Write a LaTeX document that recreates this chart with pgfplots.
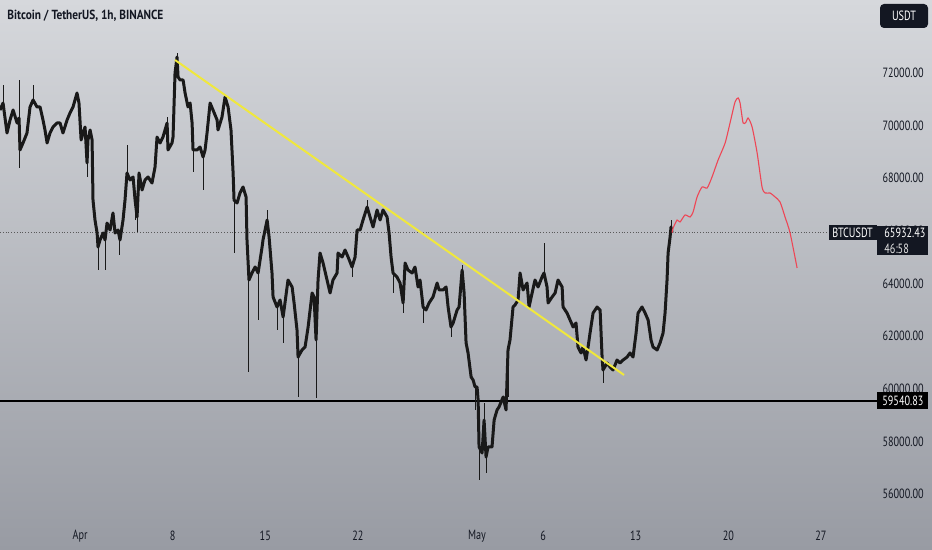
\documentclass[border=0pt]{standalone}
\usepackage{pgfplots}
\pgfplotsset{compat=1.18}
\usepackage{pgfplotstable}
\usepackage{graphicx}
\usepackage{fontspec}
\setmainfont{PT Sans}

\definecolor{bgtop}{RGB}{214,216,220}
\definecolor{bgbot}{RGB}{152,155,163}
\definecolor{txt}{RGB}{19,23,34}
\definecolor{boxc}{RGB}{19,23,34}
\definecolor{ylw}{RGB}{240,232,60}
\definecolor{fcst}{RGB}{238,70,85}

\newcommand\lbl[1]{\scalebox{0.76}[1]{#1}}
\newcommand\lblfont{\fontsize{6.7}{7}\selectfont}

% hourly BTCUSDT (x = days from Apr 1)
\pgfplotstableread{
x y
-6.05 70590
-5.82 70860
-5.52 69720
-5.29 70214
-5.06 70594
-4.76 70100
-4.61 70290
-4.54 69074
-4.31 69340
-4.01 69720
-3.78 70708
-3.55 70974
-3.25 70708
-3.02 70708
-2.80 70214
-2.65 69834
-2.49 69340
-2.27 69720
-2.04 69948
-1.74 70100
-1.51 70100
-1.29 69720
-0.98 70214
-0.76 70480
-0.53 70708
-0.23 71240
-0.08 70860
0.08 69454
0.23 69720
0.38 69948
0.53 68580
0.60 69454
0.76 69834
0.91 69454
0.98 67174
1.13 66414
1.29 65920
1.36 65388
1.51 65654
1.74 65920
1.89 65654
2.04 66300
2.27 66034
2.49 66680
2.65 65920
2.87 66034
3.02 65654
3.25 66414
3.40 67174
3.55 68200
3.78 67934
4.01 68048
4.16 67174
4.31 66528
4.46 68200
4.69 67554
4.91 67934
5.14 68048
5.44 67820
5.67 68428
5.82 69568
6.05 69340
6.27 69568
6.58 70100
6.65 69074
6.95 69340
7.03 69568
7.18 72000
7.33 72608
7.41 71848
7.56 71734
7.79 71734
7.94 71240
8.16 70708
8.32 70860
8.47 70100
8.54 69074
8.84 69074
9.07 69188
9.30 68808
9.45 69074
9.60 69720
9.83 70860
10.05 70594
10.36 70214
10.43 69834
10.73 70328
10.96 71088
11.19 70708
11.41 69834
11.57 68200
11.64 67174
11.87 67060
12.09 67440
12.32 67668
12.55 67288
12.62 65654
12.77 64134
13.00 64400
13.23 64628
13.46 64400
13.76 65388
13.83 65654
14.14 66414
14.29 65768
14.51 64400
14.59 63488
14.89 63108
15.12 63374
15.35 62728
15.72 64134
16.03 63868
16.18 63260
16.40 62234
16.48 61208
16.78 61474
17.01 61588
17.24 62348
17.54 63640
17.69 63488
17.84 61854
17.99 64134
18.14 65160
18.37 64780
18.67 64134
18.90 63640
19.12 64134
19.43 64400
19.50 65160
19.81 65008
20.03 65274
20.26 65008
20.56 64628
20.79 65008
20.94 66034
21.17 66034
21.39 66414
21.70 66908
21.92 66528
22.15 66148
22.45 66794
22.68 66414
22.90 66794
23.21 66528
23.36 65920
23.51 65008
23.66 64400
23.96 64248
24.19 64020
24.42 63260
24.57 64780
24.79 64514
25.10 64400
25.32 64628
25.55 63868
25.70 64134
25.93 63108
26.15 62994
26.38 63260
26.68 63488
26.99 64020
27.14 63754
27.44 63754
27.67 63868
27.82 63108
28.04 62348
28.20 62500
28.50 62994
28.65 63108
28.88 64514
29.03 63640
29.18 61740
29.33 61360
29.56 60448
29.71 60334
29.86 60068
30.01 60068
30.09 59574
30.16 57788
30.39 57560
30.54 58814
30.69 57408
30.84 57788
31.14 57788
31.30 58814
31.52 59194
31.67 59308
31.98 59688
32.20 59194
32.35 61474
32.50 61854
32.73 63108
32.88 63184
33.11 63374
33.26 64400
33.49 63754
33.79 64020
33.94 63108
34.17 63640
34.39 64134
34.62 63868
34.92 64248
35.07 64400
35.30 63868
35.38 63260
35.68 63488
35.91 63640
36.13 64134
36.44 63868
36.51 63108
36.81 62880
37.04 62614
37.27 62348
37.49 62500
37.64 61588
37.87 61360
38.02 61588
38.25 61094
38.40 61588
38.55 62120
38.78 62880
39.08 63108
39.31 62994
39.46 61208
39.53 60714
39.84 60980
40.06 60828
40.29 60714
40.59 61094
40.82 60980
41.05 61094
41.35 61208
41.57 61360
41.80 61208
42.03 62120
42.18 62880
42.48 63108
42.71 62880
42.94 62614
43.16 61854
43.31 61588
43.62 61474
43.84 61740
44.07 62120
44.22 62880
44.37 64134
44.45 65160
44.60 65768
44.67 66148
44.75 65932
}\candles

% wicks that stick out of the band
\pgfplotstableread{
x y
-5.82 70860
-5.82 71544
nan nan
-4.61 70290
-4.61 71734
nan nan
-4.54 68390
-4.54 69074
nan nan
-3.55 70974
-3.55 71544
nan nan
0.53 68048
0.53 68580
nan nan
1.36 64514
1.36 65388
nan nan
1.89 64514
1.89 65654
nan nan
3.02 65084
3.02 65654
nan nan
3.55 68200
3.55 69264
nan nan
4.16 66414
4.16 67174
nan nan
4.31 65958
4.31 66528
nan nan
6.58 70100
6.58 70328
nan nan
7.33 72608
7.33 72760
nan nan
8.54 68238
8.54 69074
nan nan
9.30 67554
9.30 68808
nan nan
11.64 65160
11.64 67174
nan nan
12.77 60638
12.77 64134
nan nan
13.46 62614
13.46 64400
nan nan
14.14 66414
14.14 66794
nan nan
14.89 62234
14.89 63108
nan nan
15.35 61740
15.35 62728
nan nan
16.48 59688
16.48 61208
nan nan
17.84 59650
17.84 61854
nan nan
20.56 64248
20.56 64628
nan nan
21.70 66908
21.70 67174
nan nan
23.66 63640
23.66 64400
nan nan
24.42 62880
24.42 63260
nan nan
25.93 62500
25.93 63108
nan nan
28.04 61968
28.04 62348
nan nan
28.88 64514
28.88 64704
nan nan
29.86 59194
29.86 60068
nan nan
30.16 56534
30.16 57788
nan nan
30.54 58814
30.54 59460
nan nan
30.69 56800
30.69 57408
nan nan
32.35 59688
32.35 61474
nan nan
35.07 64400
35.07 65540
nan nan
39.53 60220
39.53 60714
nan nan
44.67 66148
44.67 66414
}\wicks

% hand-drawn projection
\pgfplotstableread{
x y
44.75 65932
44.83 66110
45.13 66414
45.35 66338
45.73 66604
46.11 66528
46.34 66718
46.64 67288
47.02 67668
47.40 67630
47.77 68048
48.23 68694
48.76 69340
49.13 70100
49.51 70898
49.74 71050
49.89 70860
50.12 70100
50.34 70138
50.50 70290
50.80 69948
51.18 68960
51.55 67668
51.78 67440
52.16 67440
52.54 67288
52.91 67098
53.29 66528
53.67 65920
54.20 64592
}\proj

\begin{document}
\begin{tikzpicture}
\useasboundingbox (0,0) rectangle (466pt,275pt);
\shade[top color=bgtop, bottom color=bgbot] (0,0) rectangle (466pt,275pt);

\begin{axis}[
    at={(0pt,17.5pt)}, anchor=south west,
    width=438.5pt, height=257.5pt, scale only axis,
    xmin=-6.05, xmax=60.24, ymin=55204, ymax=74774,
    clip=false,
    axis line style={draw=none},
    major tick length=0pt,
    unbounded coords=jump,
    scaled y ticks=false,
    xtick={0,7,14,21,30,35,42,49,56},
    xticklabels={\lbl{Apr},\lbl{8},\lbl{15},\lbl{22},\lbl{May},\lbl{6},\lbl{13},\lbl{20},\lbl{27}},
    ytick={56000,58000,...,72000},
    yticklabel pos=right,
    ticklabel style={font=\lblfont, text=txt},
    xticklabel style={anchor=center, yshift=-10.5pt},
    yticklabel style={anchor=east, inner sep=0pt, xshift=24pt},
    yticklabel={\lblfont\makebox[0pt][r]{\lbl{\pgfmathprintnumber[fixed,fixed zerofill,precision=2,1000 sep={},assume math mode=true]{\tick}}}},
]
\addplot[gray!70!black, line width=0.4pt, densely dotted] coordinates {(-6.05,65932.43) (56.54,65932.43)};
\addplot[black, line width=0.8pt] coordinates {(-6.05,59540.83) (60.24,59540.83)};
\addplot[black!90, line width=0.5pt] table {\wicks};
\addplot[black!90, line width=1.5pt, line join=round] table {\candles};
\addplot[ylw, line width=1pt] coordinates {(7.18,72494) (41.12,60524)};
\addplot[fcst, line width=0.55pt, smooth, tension=0.4] table {\proj};

\node[fill=boxc, text=white, inner sep=0pt, minimum width=24pt, minimum height=7.5pt, anchor=east,
      font=\lblfont] at (axis cs:60.24,65932.43) {\lbl{BTCUSDT}};
\fill[boxc] (axis cs:60.24,66186) rectangle ++(25.5pt,-14.5pt);
\node[anchor=west, inner sep=0pt, xshift=3.5pt, text=white, font=\lblfont]
    at (axis cs:60.24,65932.43) {\lbl{65932.43}};
\node[anchor=west, inner sep=0pt, xshift=3.5pt, text=white!80!gray, font=\lblfont]
    at (axis cs:60.24,65300) {\lbl{46:58}};
\node[fill=black, text=white, inner sep=0pt, minimum width=25.5pt, minimum height=8.5pt, anchor=west,
      font=\lblfont] at (axis cs:60.24,59540.83) {\lbl{59540.83}};
\end{axis}

\node[anchor=west, inner sep=0pt, text=txt, font=\fontsize{6.6}{7}\selectfont\bfseries]
    at (3.5pt,267pt) {\scalebox{0.86}[1]{Bitcoin / TetherUS, 1h, BINANCE}};
\fill[boxc, rounded corners=2pt] (440pt,261pt) rectangle (464pt,273pt);
\node[text=white, inner sep=0pt, font=\lblfont] at (452pt,267pt) {\lbl{USDT}};
\end{tikzpicture}
\end{document}
